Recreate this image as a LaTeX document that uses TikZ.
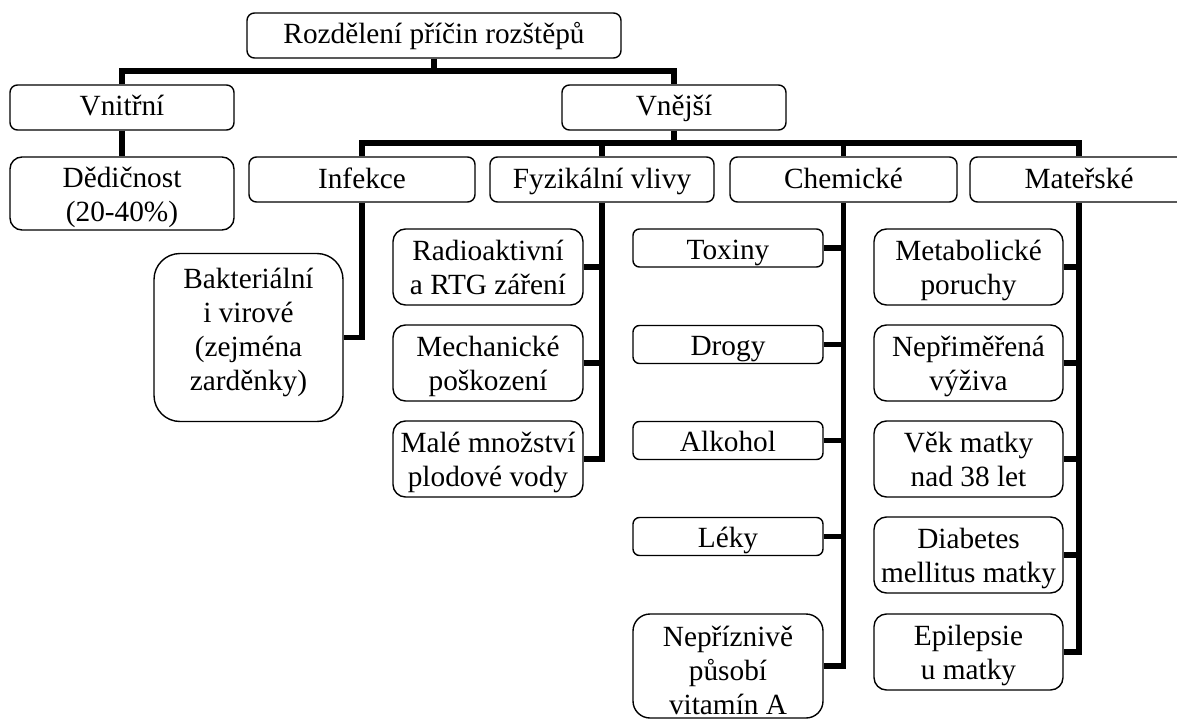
\documentclass[tikz,border=0pt]{standalone}
\usepackage{fontspec}
\setmainfont{Liberation Serif}

\begin{document}
\begin{tikzpicture}[x=1pt, y=-1pt,
  cell/.style={draw, fill=white, line width=1.4pt, inner sep=0pt, align=center, font=\fontsize{29.3}{34}\selectfont},
  head/.style={cell, minimum width=224pt, minimum height=45pt, rounded corners=7.5pt, text height=18pt, text depth=0pt},
  leaf/.style={cell, minimum width=190pt, minimum height=76pt, rounded corners=12.5pt, text height=54pt, text depth=0pt},
  chip/.style={cell, minimum width=190pt, minimum height=38pt, rounded corners=6.5pt, text height=22pt, text depth=0pt},
  conn/.style={line width=5.5pt}]
\useasboundingbox (0,0) rectangle (1177,722);
\node (root) [head, minimum width=374pt, text height=17pt] at (434,35.5) {Rozdělení příčin rozštěpů};
\node (vnitrni) [head, text height=17pt] at (122,107.5) {Vnitřní};
\node (vnejsi) [head, text height=17pt] at (674,107.5) {Vnější};
\node (dedicnost) [head, minimum height=73pt, rounded corners=12pt, text height=56pt] at (122,193.5) {Dědičnost\\(20-40\%)};
\node (infekce) [head, minimum width=226pt] at (362,179.5) {Infekce};
\node (fyzik) [head] at (602,179.5) {Fyzikální vlivy};
\node (chem) [head, minimum width=227pt] at (843.5,179.5) {Chemické};
\node (mater) [head, minimum width=218pt] at (1079,179.5) {Mateřské};
\node (bakter) [leaf, minimum width=189pt, minimum height=168pt, rounded corners=26pt, text height=106pt] at (248.5,337.5) {Bakteriální\\i virové\\(zejména\\zarděnky)};
\node (radio) [leaf] at (488,267) {Radioaktivní\\a RTG záření};
\node (mech) [leaf] at (488,363) {Mechanické\\poškození};
\node (male) [leaf] at (488,459) {Malé množství\\plodové vody};
\node (toxiny) [chip] at (728,248) {Toxiny};
\node (drogy) [chip] at (728,344.5) {Drogy};
\node (alkohol) [chip] at (728,440.5) {Alkohol};
\node (leky) [chip] at (728,536.5) {Léky};
\node (neprizn) [leaf, minimum height=104pt, rounded corners=17pt, text height=96pt] at (728,666) {Nepříznivě\\působí\\vitamín A};
\node (metab) [leaf, minimum width=189pt] at (968.5,267) {Metabolické\\poruchy};
\node (vyziva) [leaf, minimum width=189pt] at (968.5,363) {Nepřiměřená\\výživa};
\node (vek) [leaf, minimum width=189pt] at (968.5,459) {Věk matky\\nad 38 let};
\node (diab) [leaf, minimum width=189pt] at (968.5,555) {Diabetes\\mellitus matky};
\node (epil) [leaf, minimum width=189pt] at (968.5,652) {Epilepsie\\u matky};
\draw[conn] (root.south) -- (root.south |- 0,71);
\draw[conn] (vnitrni.north) -- (vnitrni.north |- 0,71) -| (vnejsi.north);
\draw[conn] (vnitrni.south) -- (dedicnost.north);
\draw[conn] (vnejsi.south) -- (vnejsi.south |- 0,143);
\draw[conn] (infekce.north) -- (infekce.north |- 0,143) -| (mater.north);
\draw[conn] (fyzik.north) -- (fyzik.north |- 0,143);
\draw[conn] (chem.north) -- (chem.north |- 0,143);
\draw[conn] (infekce.south) |- (bakter.east);
\draw[conn] (fyzik.south) |- (male.east);
\draw[conn] (radio.east) -- (radio.east -| fyzik.south);
\draw[conn] (mech.east) -- (mech.east -| fyzik.south);
\draw[conn] (chem.south) |- (neprizn.east);
\draw[conn] (toxiny.east) -- (toxiny.east -| chem.south);
\draw[conn] (drogy.east) -- (drogy.east -| chem.south);
\draw[conn] (alkohol.east) -- (alkohol.east -| chem.south);
\draw[conn] (leky.east) -- (leky.east -| chem.south);
\draw[conn] (mater.south) |- (epil.east);
\draw[conn] (metab.east) -- (metab.east -| mater.south);
\draw[conn] (vyziva.east) -- (vyziva.east -| mater.south);
\draw[conn] (vek.east) -- (vek.east -| mater.south);
\draw[conn] (diab.east) -- (diab.east -| mater.south);
\end{tikzpicture}
\end{document}
